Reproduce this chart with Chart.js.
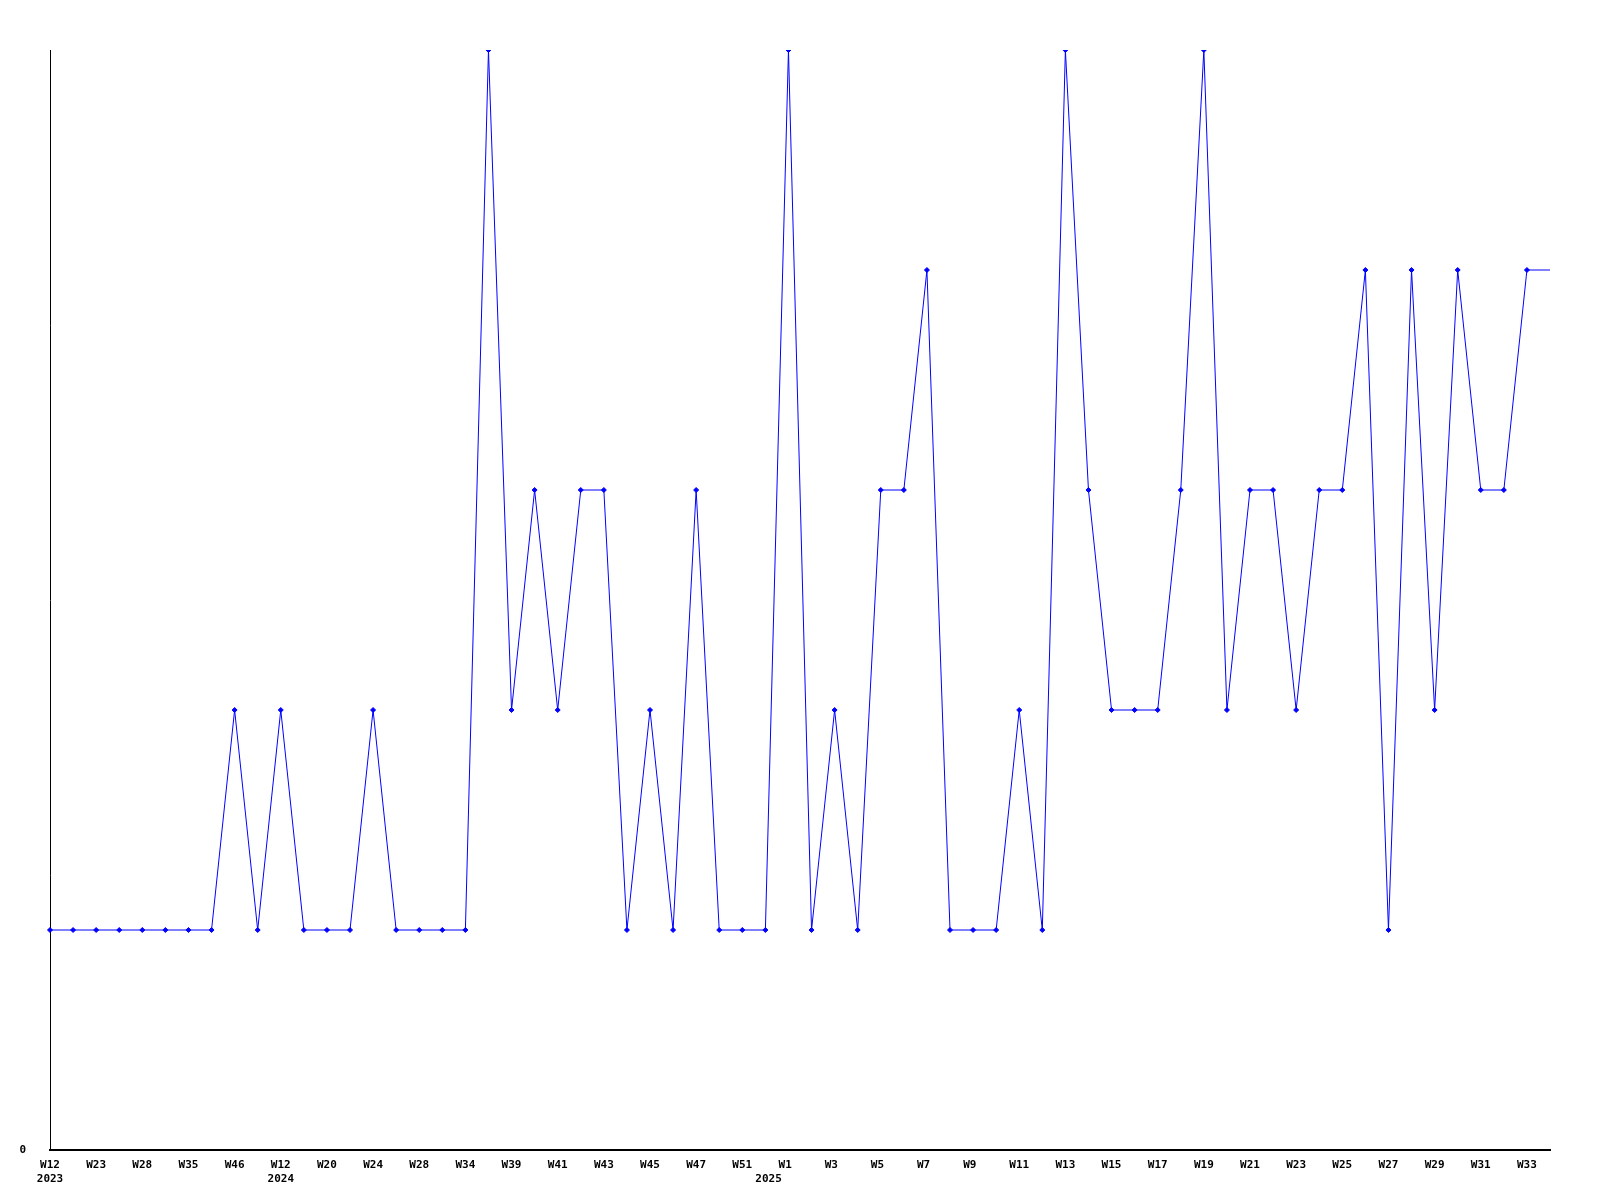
<!DOCTYPE html>
<html>
<head>
<meta charset="utf-8">
<script src="https://cdn.jsdelivr.net/npm/chart.js@4"></script>
<style>
  html, body { margin: 0; padding: 0; background: #fff; }
  #wrap { width: 1600px; height: 1200px; }
</style>
</head>
<body>
<div id="wrap"><canvas id="chart" width="1600" height="1200"></canvas></div>
<script>
// week labels, one every second point (the odd ones are not printed)
const weekLabels = [
  ["W12", "2023"], "", "W23", "", "W28", "", "W35", "", "W46", "",
  ["W12", "2024"], "", "W20", "", "W24", "", "W28", "", "W34", "",
  "W39", "", "W41", "", "W43", "", "W45", "", "W47", "",
  "W51", "", ["W1 ", "2025      "], "", "W3 ", "", "W5 ", "", "W7 ", "",
  "W9 ", "", "W11", "", "W13", "", "W15", "", "W17", "",
  "W19", "", "W21", "", "W23", "", "W25", "", "W27", "",
  "W29", "", "W31", "", "W33", "",
];

// weekly counts (last entry is the open end of the line, drawn without marker)
const weeklyCounts = [
  1, 1, 1, 1, 1, 1, 1, 1, 2, 1,
  2, 1, 1, 1, 2, 1, 1, 1, 1, 5,
  2, 3, 2, 3, 3, 1, 2, 1, 3, 1,
  1, 1, 5, 1, 2, 1, 3, 3, 4, 1,
  1, 1, 2, 1, 5, 3, 2, 2, 2, 3,
  5, 2, 3, 3, 2, 3, 3, 4, 1, 4,
  2, 4, 3, 3, 4, 4,
];

const LINE_COLOR = "rgb(0, 0, 255)";
const TICK_FONT = {
  family: "'DejaVu Sans Mono', monospace",
  size: 11,
  weight: "bold",
  lineHeight: 1.27,
};

const lastIndex = weeklyCounts.length - 1;

new Chart(document.getElementById("chart"), {
  type: "line",
  data: {
    labels: weekLabels,
    datasets: [
      {
        data: weeklyCounts,
        borderColor: LINE_COLOR,
        backgroundColor: LINE_COLOR,
        borderWidth: 1,
        pointStyle: "rectRot",
        pointRadius: (ctx) => (ctx.dataIndex === lastIndex ? 0 : 2.5),
        pointBorderWidth: 1,
        tension: 0,
        fill: false,
      },
    ],
  },
  options: {
    responsive: false,
    animation: false,
    events: [],
    layout: { padding: { top: 50, right: 50, left: 0, bottom: 0 } },
    plugins: {
      legend: { display: false },
      tooltip: { enabled: false },
    },
    scales: {
      x: {
        type: "category",
        offset: false,
        grid: { display: false },
        border: { display: true, color: "#000", width: 2 },
        ticks: {
          autoSkip: false,
          maxRotation: 0,
          minRotation: 0,
          padding: 0,
          color: "#000",
          font: TICK_FONT,
        },
        afterFit: (scale) => {
          scale.height = 50;
        },
      },
      y: {
        min: 0,
        max: 5,
        grid: { display: false },
        border: { display: true, color: "#000", width: 1 },
        ticks: {
          stepSize: 1,
          padding: 16,
          color: "#000",
          font: TICK_FONT,
          callback: (value) => (value === 0 ? "0" : ""),
        },
        afterFit: (scale) => {
          scale.width = 50;
        },
      },
    },
  },
});
</script>
</body>
</html>
